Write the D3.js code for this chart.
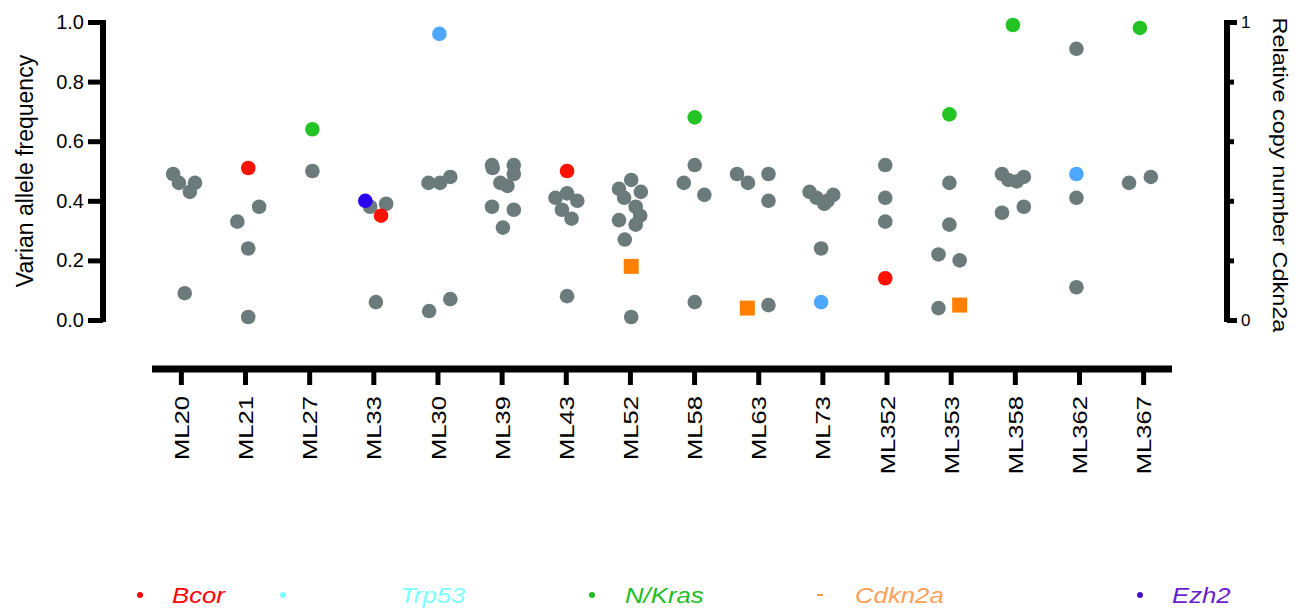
<!DOCTYPE html>
<html>
<head>
<meta charset="utf-8">
<script src="https://cdn.jsdelivr.net/npm/d3@7"></script>
<style>
  html, body { margin: 0; padding: 0; background: #fff; }
  svg { display: block; font-family: "Liberation Sans", Arial, sans-serif; }
</style>
</head>
<body>
<svg id="chart" width="1299" height="613"></svg>
<script>
// Tumour samples along the x axis
const samples = ["ML20","ML21","ML27","ML33","ML30","ML39","ML43","ML52","ML58","ML63","ML73","ML352","ML353","ML358","ML362","ML367"];

// Variant allele frequencies: [sample, VAF, horizontal jitter in sample units]
const otherVariants = [
  ["ML20",0.49,-0.12],["ML20",0.46,-0.03],["ML20",0.46,0.22],["ML20",0.43,0.14],["ML20",0.09,0.06],
  ["ML21",0.33,-0.12],["ML21",0.38,0.22],["ML21",0.24,0.05],["ML21",0.01,0.05],
  ["ML27",0.50,0.05],
  ["ML33",0.38,-0.05],["ML33",0.39,0.20],["ML33",0.06,0.04],
  ["ML30",0.46,-0.14],["ML30",0.46,0.04],["ML30",0.48,0.20],["ML30",0.03,-0.13],["ML30",0.07,0.20],
  ["ML39",0.52,-0.15],["ML39",0.51,-0.14],["ML39",0.52,0.19],["ML39",0.49,0.19],["ML39",0.46,-0.02],["ML39",0.45,0.09],["ML39",0.38,-0.15],["ML39",0.37,0.19],["ML39",0.31,0.02],
  ["ML43",0.41,-0.16],["ML43",0.425,0.02],["ML43",0.40,0.18],["ML43",0.37,-0.06],["ML43",0.34,0.09],["ML43",0.08,0.02],
  ["ML52",0.47,0.02],["ML52",0.44,-0.17],["ML52",0.43,0.17],["ML52",0.41,-0.09],["ML52",0.38,0.09],["ML52",0.35,0.16],["ML52",0.335,-0.17],["ML52",0.32,0.09],["ML52",0.27,-0.08],["ML52",0.01,0.02],
  ["ML58",0.52,0.01],["ML58",0.46,-0.16],["ML58",0.42,0.16],["ML58",0.06,0.01],
  ["ML63",0.49,-0.33],["ML63",0.46,-0.16],["ML63",0.49,0.16],["ML63",0.40,0.16],["ML63",0.05,0.16],
  ["ML73",0.43,-0.20],["ML73",0.41,-0.09],["ML73",0.39,0.03],["ML73",0.40,0.08],["ML73",0.42,0.17],["ML73",0.24,-0.02],
  ["ML352",0.52,-0.02],["ML352",0.41,-0.02],["ML352",0.33,-0.02],
  ["ML353",0.46,-0.02],["ML353",0.32,-0.02],["ML353",0.22,-0.19],["ML353",0.20,0.14],["ML353",0.04,-0.19],
  ["ML358",0.49,-0.20],["ML358",0.47,-0.10],["ML358",0.465,0.03],["ML358",0.48,0.14],["ML358",0.36,-0.20],["ML358",0.38,0.14],
  ["ML362",0.91,-0.04],["ML362",0.41,-0.04],["ML362",0.11,-0.04],
  ["ML367",0.46,-0.22],["ML367",0.48,0.12]
];
const bcor = [["ML21",0.51,0.05],["ML33",0.35,0.12],["ML43",0.50,0.02],["ML352",0.14,-0.02]];
const trp53 = [["ML30",0.96,0.03],["ML73",0.06,-0.02],["ML362",0.49,-0.04]];
const nkras = [["ML27",0.64,0.05],["ML58",0.68,0.01],["ML353",0.69,-0.02],["ML358",0.99,-0.03],["ML367",0.98,-0.05]];
const ezh2 = [["ML33",0.40,-0.125]];
// Relative copy number of Cdkn2a (right axis)
const cdkn2a = [["ML52",0.18,0.02],["ML63",0.04,-0.17],["ML353",0.05,0.14]];

// Axis ticks
const leftTicks = [0, 0.2, 0.4, 0.6, 0.8, 1.0];
const rightTicks = [0, 0.2, 0.4, 0.6, 0.8, 1];
const rightTickLabels = {0: "0", 1: "1"};

// Legend
const legendLabels = ["Bcor", "Trp53", "N/Kras", "Cdkn2a", "Ezh2"];
const legendColors = ["#ff0000", "#80ffff", "#22bb22", "#ffa05a", "#6a1ed0"];
const legendMarkColors = ["#ff0000", "#80ffff", "#22bb22", "#ff9a50", "#4a10c8"];

// ---- drawing ----
const svg = d3.select("#chart");
const grey = "#6b7b7b";
const axisW = 6;

const x = d3.scaleLinear().domain([-0.45, samples.length - 1 + 0.45]).range([152, 1172]);
const y = d3.scaleLinear().domain([0, 1]).range([320, 22]);
const yR = d3.scaleLinear().domain([0, 1]).range([320, 22]);
const xPos = d => x(samples.indexOf(d[0]) + d[2]);

// Left axis
const gL = svg.append("g").attr("transform", "translate(103,0)")
  .call(d3.axisLeft(y).tickValues(leftTicks).tickFormat(d3.format(".1f"))
    .tickSize(15).tickSizeOuter(0).tickPadding(4));
gL.select(".domain").attr("stroke", "#000").attr("stroke-width", axisW)
  .attr("d", `M0,${y(1) - 2}V${y(0) + 2}`);
gL.selectAll(".tick line").attr("stroke", "#000").attr("stroke-width", 5);
gL.selectAll(".tick text").attr("font-size", 20).attr("fill", "#000")
  .attr("font-family", "Liberation Sans, Arial, sans-serif");

svg.append("text")
  .attr("transform", `translate(33,${(y(0) + y(1)) / 2}) rotate(-90)`)
  .attr("text-anchor", "middle").attr("font-size", 23).attr("fill", "#000")
  .text("Varian allele frequency");

// Right axis
const gR = svg.append("g").attr("transform", "translate(1227,0)")
  .call(d3.axisRight(yR).tickValues(rightTicks).tickFormat(d => rightTickLabels[d] || "")
    .tickSize(8).tickSizeOuter(0).tickPadding(6));
gR.select(".domain").attr("stroke", "#000").attr("stroke-width", axisW)
  .attr("d", `M0,${yR(1) - 2}V${yR(0) + 2}`);
gR.selectAll(".tick line").attr("stroke", "#000").attr("stroke-width", 5)
  .attr("x2", d => (d === 0 || d === 1) ? 10 : 7);
gR.selectAll(".tick text").attr("font-size", 17).attr("fill", "#000")
  .attr("font-family", "Liberation Sans, Arial, sans-serif");

svg.append("text")
  .attr("transform", `translate(1273,${(yR(0) + yR(1)) / 2 + 4}) rotate(90) scale(1.12,1)`)
  .attr("text-anchor", "middle").attr("font-size", 21).attr("fill", "#000")
  .text("Relative copy number Cdkn2a");

// Bottom axis with sample names
const gX = svg.append("g").attr("transform", "translate(0,369)")
  .call(d3.axisBottom(x).tickValues(d3.range(samples.length)).tickFormat(i => samples[i])
    .tickSize(16).tickSizeOuter(0));
gX.select(".domain").attr("stroke", "#000").attr("stroke-width", 7)
  .attr("d", `M${x.range()[0]},0H${x.range()[1]}`);
gX.selectAll(".tick line").attr("stroke", "#000").attr("stroke-width", 5);
gX.selectAll(".tick text")
  .attr("font-size", 21).attr("fill", "#000")
  .attr("font-family", "Liberation Sans, Arial, sans-serif")
  .attr("text-anchor", "end")
  .attr("x", 0).attr("y", 0).attr("dy", "0.36em")
  .attr("transform", "translate(0,27) rotate(-90) scale(1.22,1)");

// Points
const r = 7.3;
function dots(data, color) {
  svg.append("g").selectAll("circle").data(data).join("circle")
    .attr("cx", xPos).attr("cy", d => y(d[1])).attr("r", r).attr("fill", color);
}
dots(otherVariants, grey);
dots(bcor, "#ff1100");
dots(trp53, "#4da6ff");
dots(nkras, "#22c322");
dots(ezh2, "#2a00f0");

const sq = 15;
svg.append("g").selectAll("rect").data(cdkn2a).join("rect")
  .attr("x", d => xPos(d) - sq / 2).attr("y", d => yR(d[1]) - sq / 2)
  .attr("width", sq).attr("height", sq).attr("fill", "#ff8000");

// Legend
const legendMarkX = [140, 283, 592, 820, 1140];
const legendTextX = [172, 400, 625, 855, 1172];
const legendY = 595;
const lg = svg.append("g");
legendLabels.forEach((label, i) => {
  if (label === "Cdkn2a") {
    lg.append("rect").attr("x", legendMarkX[i] - 3).attr("y", legendY - 1)
      .attr("width", 6).attr("height", 2).attr("fill", legendMarkColors[i]);
  } else {
    lg.append("circle").attr("cx", legendMarkX[i]).attr("cy", legendY).attr("r", 3)
      .attr("fill", legendMarkColors[i]);
  }
  lg.append("text")
    .attr("transform", `translate(${legendTextX[i]},${legendY + 8}) scale(1.12,1)`)
    .attr("font-size", 23).attr("font-style", "italic").attr("fill", legendColors[i])
    .text(label);
});
</script>
</body>
</html>
